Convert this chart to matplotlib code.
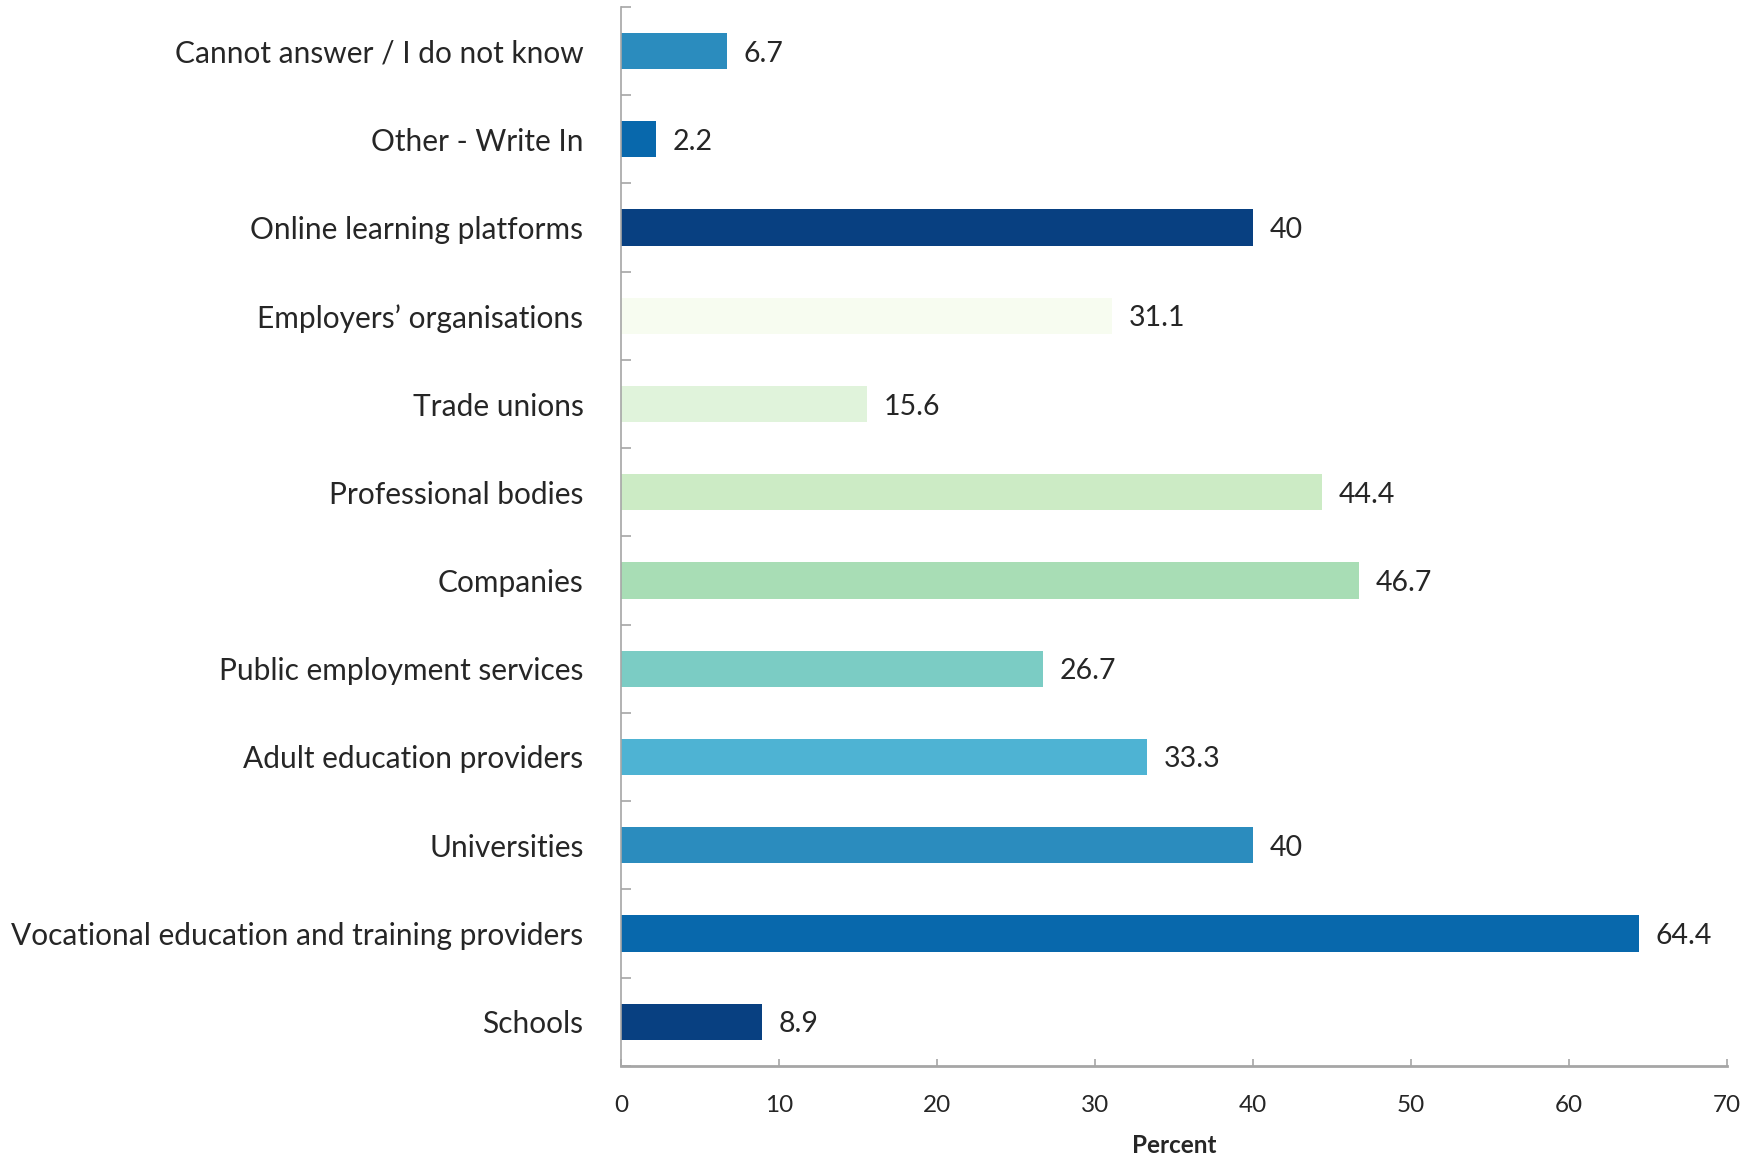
import matplotlib
matplotlib.use("Agg")
import matplotlib.pyplot as plt
from matplotlib.ticker import FixedLocator

plt.rcParams['font.family'] = ['Lato', 'DejaVu Sans']

# Categories listed bottom to top
categories = [
    "Schools",
    "Vocational education and training providers",
    "Universities",
    "Adult education providers",
    "Public employment services",
    "Companies",
    "Professional bodies",
    "Trade unions",
    "Employers\u2019 organisations",
    "Online learning platforms",
    "Other - Write In",
    "Cannot answer / I do not know",
]
values = [8.9, 64.4, 40, 33.3, 26.7, 46.7, 44.4, 15.6, 31.1, 40, 2.2, 6.7]
value_labels = ["8.9", "64.4", "40", "33.3", "26.7", "46.7", "44.4", "15.6", "31.1", "40", "2.2", "6.7"]
colors = ["#084081", "#0868ac", "#2b8cbe", "#4eb3d3", "#7bccc4", "#a8ddb5",
          "#ccebc5", "#e0f3db", "#f7fcf0", "#084081", "#0868ac", "#2b8cbe"]
x_ticks = [0, 10, 20, 30, 40, 50, 60, 70]
x_label = "Percent"

axis_grey = "#a6a6a6"
text_col = "#262626"

fig = plt.figure(figsize=(17.54, 11.56), dpi=100)
ax = fig.add_axes([0.354, 0.078, 0.6306, 0.916])

ypos = list(range(len(categories)))
ax.barh(ypos, values, height=0.41, color=colors, zorder=2)

for y, v, lab in zip(ypos, values, value_labels):
    ax.annotate(lab, xy=(v, y), xytext=(12, 0), textcoords="offset points",
                ha="left", va="center_baseline", fontsize=20.5, color=text_col)

ax.set_xlim(0, 70)
ax.set_ylim(-0.5, len(categories) - 0.5)
ax.set_xticks(x_ticks)
ax.set_xticklabels([str(t) for t in x_ticks], fontsize=17.5, color=text_col)
ax.set_yticks(ypos)
ax.set_yticklabels(categories, fontsize=21.5, color=text_col, va="center_baseline")
ax.yaxis.set_minor_locator(FixedLocator([i - 0.5 for i in range(len(categories) + 1)]))

ax.tick_params(axis="y", which="major", length=0, pad=27)
ax.tick_params(axis="y", which="minor", length=7, width=1.2, direction="in", color=axis_grey)
ax.tick_params(axis="x", which="major", length=5, width=1.2, direction="in",
               color=axis_grey, pad=21)

ax.set_xlabel(x_label, fontsize=17.5, fontweight="bold", color=text_col, labelpad=13)

for s in ("top", "right"):
    ax.spines[s].set_visible(False)
ax.spines["left"].set_color(axis_grey)
ax.spines["left"].set_linewidth(1.2)
ax.spines["bottom"].set_color(axis_grey)
ax.spines["bottom"].set_linewidth(2)

fig.savefig("out.png", dpi=100, facecolor="white")
